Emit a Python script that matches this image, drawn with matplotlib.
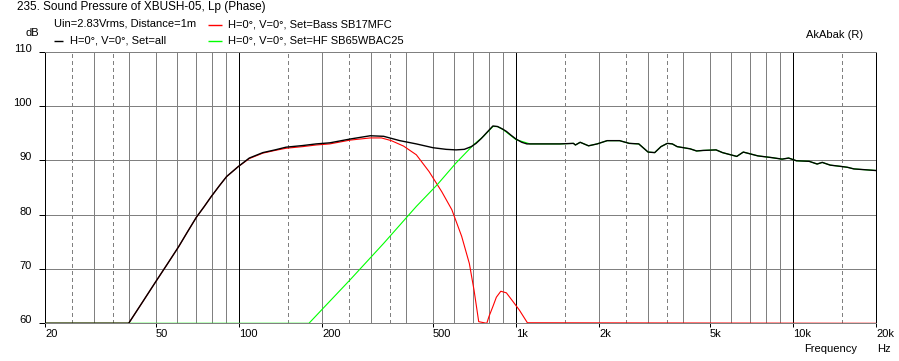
import matplotlib
matplotlib.use('Agg')
import matplotlib.pyplot as plt
import matplotlib.transforms as mtransforms
from matplotlib.lines import Line2D

# Data
freq_all = [20, 40, 45, 50.6, 55, 60.6, 65, 70.2, 75, 79.4, 85, 90.3, 99.3, 109, 122, 135, 148,
            170, 190, 213, 252, 298, 333, 381, 437, 502, 560, 608, 651, 690, 718, 750, 782, 826,
            858, 890, 924, 960, 1000, 1050, 1096, 1250, 1444, 1613, 1640, 1706, 1829, 1965, 2135,
            2368, 2565, 2777, 3000, 3170, 3340, 3520, 3670, 3820, 4253, 4490, 4740, 5280, 5570,
            6270, 6620, 7470, 8330, 9140, 9650, 10290, 11440, 12230, 12760, 13630, 14960, 15730,
            16600, 20000]
spl_all = [60, 60, 64, 68, 70.8, 74.1, 76.7, 79.5, 81.5, 83.3, 85.3, 87, 88.8, 90.4, 91.4, 91.9,
           92.4, 92.7, 93.0, 93.2, 93.9, 94.5, 94.4, 93.6, 93.0, 92.3, 92.0, 91.9, 92.0, 92.5,
           93.1, 94.0, 95.0, 96.3, 96.2, 95.8, 95.3, 94.6, 93.9, 93.3, 93.0, 93.0, 93.0, 93.1,
           92.8, 93.3, 92.65, 93.0, 93.6, 93.6, 93.1, 93.0, 91.5, 91.4, 92.5, 93.1, 93.0, 92.5,
           92.1, 91.7, 91.8, 91.9, 91.4, 90.7, 91.5, 90.8, 90.5, 90.2, 90.4, 89.9, 89.8, 89.3,
           89.6, 89.1, 88.85, 88.7, 88.4, 88.1]

freq_bass = [20, 40, 45, 50.6, 55, 60.6, 65, 70.2, 75, 79.4, 85, 90.3, 99.3, 109, 122, 135, 148,
             170, 190, 213, 252, 298, 327, 355, 393, 437, 486, 540, 587, 637, 679, 706, 734, 785,
             800, 826, 850, 882, 924, 976, 1030, 1100, 20000]
spl_bass = [60, 60, 64, 68, 70.8, 74.1, 76.7, 79.5, 81.5, 83.3, 85.3, 87, 88.8, 90.3, 91.3, 91.8,
            92.2, 92.5, 92.8, 93.0, 93.7, 94.1, 94.1, 93.6, 92.6, 91.0, 87.9, 84.2, 80.9, 76.0,
            71.0, 66.1, 60.3, 60, 61.3, 63.1, 64.8, 65.9, 65.6, 64.0, 62.4, 60.1, 60]

freq_hf = [20, 179, 200, 252, 333, 437, 520, 608, 702, 764, 826, 858, 901, 1000, 1125, 1250,
           1444, 1613, 1640, 1706, 1829, 1965, 2135, 2368, 2565, 2777, 3000, 3170, 3340, 3520,
           3670, 3820, 4253, 4490, 4740, 5280, 5570, 6270, 6620, 7470, 8330, 9140, 9650, 10290,
           11440, 12230, 12760, 13630, 14960, 15730, 16600, 20000]
spl_hf = [60, 60, 62.6, 68.0, 74.7, 81.5, 85.5, 89.5, 92.8, 94.4, 96.2, 96.2, 95.6, 93.8, 93.0,
          93.0, 93.0, 93.1, 92.8, 93.3, 92.65, 93.0, 93.6, 93.6, 93.1, 93.0, 91.5, 91.4, 92.5,
          93.1, 93.0, 92.5, 92.1, 91.7, 91.8, 91.9, 91.4, 90.7, 91.5, 90.8, 90.5, 90.2, 90.4,
          89.9, 89.8, 89.3, 89.6, 89.1, 88.85, 88.7, 88.4, 88.1]

x_ticks = [20, 50, 100, 200, 500, 1000, 2000, 5000, 10000, 20000]
x_labels = ['20', '50', '100', '200', '500', '1k', '2k', '5k', '10k', '20k']
y_ticks = [60, 70, 80, 90, 100, 110]
grid_solid = [30, 40, 50, 60, 70, 80, 90, 200, 300, 400, 500, 600, 700, 800, 900,
              2000, 3000, 4000, 5000, 6000, 7000, 8000, 9000]
grid_dashed = [25, 35, 150, 250, 350, 1500, 2500, 3500, 15000]
grid_black = [100, 1000, 10000]

plt.rcParams['font.family'] = ['Liberation Sans', 'DejaVu Sans']
plt.rcParams['font.size'] = 8

W, H = 899, 361
fig = plt.figure(figsize=(W / 100, H / 100), dpi=100)
ax = fig.add_axes([45.3 / W, 1 - 323.3 / H, (876.3 - 45.3) / W, (323.3 - 51.5) / H])

GRAY = '#808080'
GREEN = '#00ff00'
lw = 0.72
clw = 0.8

# grid
for f in grid_solid:
    ax.axvline(f, color=GRAY, lw=lw, zorder=1, antialiased=False)
for f in grid_dashed:
    ax.axvline(f, color=GRAY, lw=lw, ls=(0, (4, 3)), zorder=1, antialiased=False)
for f in grid_black:
    ax.axvline(f, color='black', lw=lw, zorder=1.5, antialiased=False)
for v in [70, 80, 90, 100]:
    ax.axhline(v, color=GRAY, lw=lw, zorder=1, antialiased=False)

# curves (red, then green, black on top)
ax.plot(freq_bass, spl_bass, color='#ff0000', lw=clw, zorder=3)
ax.plot(freq_hf, spl_hf, color=GREEN, lw=clw, zorder=4)
ax.plot(freq_all, spl_all, color='black', lw=1.0, zorder=5)

ax.set_xscale('log')
ax.set_xlim(20, 20000)
ax.set_ylim(60, 110)

ax.spines['left'].set_color('black')
ax.spines['right'].set_color('black')
ax.spines['top'].set_color(GRAY)
ax.spines['bottom'].set_color(GRAY)
for s in ax.spines.values():
    s.set_linewidth(lw)
    s.set_zorder(6)
    s.set_antialiased(False)

ax.xaxis.set_minor_locator(matplotlib.ticker.NullLocator())
ax.set_xticks(x_ticks)
ax.set_xticklabels(x_labels)
ax.set_yticks(y_ticks)
ax.set_yticklabels([str(v) for v in y_ticks])
ax.tick_params(axis='x', length=3, width=lw, color='black', pad=1, labelsize=8)
ax.tick_params(axis='y', length=4, width=lw, color='black', pad=6, labelsize=8)
for lab in ax.get_xticklabels():
    lab.set_horizontalalignment('left')
up = mtransforms.ScaledTranslation(0, 4 / 100, fig.dpi_scale_trans)
for lab in ax.get_yticklabels():
    lab.set_transform(lab.get_transform() + up)


def fx(x):
    return x / W


def fy(y):
    return 1 - y / H


# header texts
fig.text(fx(17), fy(7), '235. Sound Pressure of XBUSH-05, Lp (Phase)', va='center', ha='left',
         fontsize=8.5)
fig.text(fx(54), fy(24), 'Uin=2.83Vrms, Distance=1m', va='center', ha='left')
fig.text(fx(26), fy(33), 'dB', va='center', ha='left')
fig.text(fx(863), fy(35), 'AkAbak (R)', va='center', ha='right')

legend = [(54, 63, 40.5, 70, 'black', 'H=0°, V=0°, Set=all'),
          (208, 222, 24.5, 228, '#ff0000', 'H=0°, V=0°, Set=Bass SB17MFC'),
          (208, 222, 40.5, 228, GREEN, 'H=0°, V=0°, Set=HF SB65WBAC25')]
for x0, x1, y, xt, c, t in legend:
    fig.add_artist(Line2D([fx(x0), fx(x1)], [fy(y), fy(y)], color=c, lw=1.0,
                          transform=fig.transFigure, solid_capstyle='butt'))
    fig.text(fx(xt), fy(y), t, va='center', ha='left')

fig.text(fx(804), fy(349), 'Frequency', va='center', ha='left')
fig.text(fx(877), fy(349), 'Hz', va='center', ha='left')

fig.savefig('out.png', dpi=100)
